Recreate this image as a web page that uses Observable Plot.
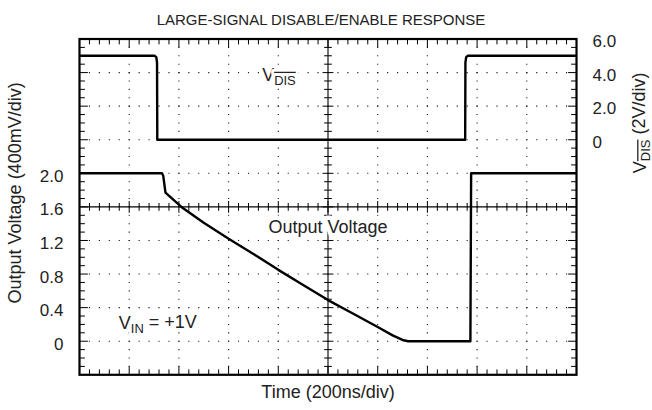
<!DOCTYPE html>
<html><head><meta charset="utf-8">
<script src="https://cdn.jsdelivr.net/npm/d3@7"></script>
<script src="https://cdn.jsdelivr.net/npm/@observablehq/plot@0.6"></script>
<style>
body{margin:0;background:#fff;}
#chart svg{display:block;font-family:"Liberation Sans",Arial,Helvetica,sans-serif;}
</style></head><body><div id="chart"></div>
<script>
// ---- axes (data units) ----
const timeDomain = [0, 2000];            // ns, 200 ns/div, 10 divisions
const outDomain = [-0.4, 3.6];           // V, 400 mV/div, 10 divisions
const outTicks = [0, 0.4, 0.8, 1.2, 1.6, 2.0];
const outTickLabels = ["0", "0.4", "0.8", "1.2", "1.6", "2.0"];
const disTicks = [0, 2, 4, 6];          // V_DIS, 2 V/div
const disTickLabels = ["0", "2.0", "4.0", "6.0"];
const disScale = 0.2;                   // (400 mV/div) / (2 V/div)
const disOffset = 2.4;                  // V_DIS = 0 sits on the 2.4 V output line

// ---- V_DIS trace ----
const disTime = [0, 302, 309, 312, 313, 1552, 1553, 1556, 1563, 2000];
const disVolt = [5.0, 5.0, 4.92, 4.6, 0, 0, 4.6, 4.92, 5.0, 5.0];

// ---- Output voltage trace ----
const outTime = [0, 332, 337, 346, 410, 500, 600, 700, 800, 900, 1000, 1100, 1200, 1260, 1300, 1322, 1573, 1576, 2000];
const outVolt = [2.0, 2.0, 1.97, 1.77, 1.60, 1.41, 1.22, 1.04, 0.85, 0.67, 0.49, 0.33, 0.17, 0.07, 0.015, 0, 0, 2.0, 2.0];

// ---- texts ----
const title = "LARGE-SIGNAL DISABLE/ENABLE RESPONSE";
const xLabel = "Time (200ns/div)";
const yLabel = "Output Voltage (400mV/div)";
const y2Label = {main: "V", sub: "DIS", rest: " (2V/div)"};
const noteDis = {main: "V", sub: "DIS", rest: "", t: 735, v: 3.17};
const noteOut = {main: "Output Voltage", sub: "", rest: "", t: 1000, v: 1.36};
const noteIn = {main: "V", sub: "IN", rest: " = +1V", t: 158, v: 0.21};

// ---- derived tables ----
const disData = disTime.map((t, i) => ({t, v: disOffset + disVolt[i] * disScale}));
const outData = outTime.map((t, i) => ({t, v: outVolt[i]}));
const leftTicks = outTicks.map((v, i) => ({v, label: outTickLabels[i]}));
const rightTicks = disTicks.map((d, i) => ({v: disOffset + d * disScale, label: disTickLabels[i]}));

const xDiv = d3.range(11).map(i => timeDomain[0] + i * 200);
const yDiv = d3.range(11).map(i => +(outDomain[0] + i * 0.4).toFixed(3));
const xMinor = d3.range(51).map(i => i * 40);
const yMinor = d3.range(41).map(i => +(outDomain[0] + i * 0.1).toFixed(3));
const xCenter = 1000, yCenter = 1.6;

const isMajorX = t => Math.abs(t / 200 - Math.round(t / 200)) < 1e-6;
const isMajorY = v => Math.abs((v - outDomain[0]) / 0.4 - Math.round((v - outDomain[0]) / 0.4)) < 1e-6;

const dots = [];
for (const y of yDiv.slice(1, -1)) if (y !== yCenter) for (const t of xMinor.slice(1, -1)) dots.push({t, v: y});
for (const t of xDiv.slice(1, -1)) if (t !== xCenter) for (const v of yMinor.slice(1, -1)) dots.push({t, v});

const tickShape = {draw(context, l) { context.moveTo(0, 0); context.lineTo(0, -l); }};
const xIn = xMinor.slice(1, -1), yIn = yMinor.slice(1, -1);
const xMaj = xIn.filter(isMajorX), xMin = xIn.filter(d => !isMajorX(d));
const yMaj = yIn.filter(isMajorY), yMin = yIn.filter(d => !isMajorY(d));

function ticks(data, horizontal, pos, length, rotate, anchor) {
  const o = {length, anchor, rotate, shape: tickShape, strokeWidth: 1, stroke: "#000"};
  return horizontal
    ? Plot.vector(data, {x: d => d, y: () => pos, ...o})
    : Plot.vector(data, {x: () => pos, y: d => d, ...o});
}

const fs = 17, fl = 18;
const chart = Plot.plot({
  width: 652, height: 410,
  marginLeft: 79, marginRight: 76, marginTop: 38.5, marginBottom: 35.7,
  x: {domain: timeDomain, axis: null},
  y: {domain: outDomain, axis: null},
  style: {fontFamily: '"Liberation Sans", Arial, Helvetica, sans-serif', background: "#fff", color: "#000"},
  marks: [
    Plot.dot(dots, {x: "t", y: "v", symbol: "square", r: 0.62, fill: "#111", stroke: null}),
    Plot.ruleX([xCenter], {stroke: "#000", strokeWidth: 1.1}),
    Plot.ruleY([yCenter], {stroke: "#000", strokeWidth: 1.1}),
    // border ticks (inward)
    ticks(xMin, true, outDomain[0], 5, 0, "start"),
    ticks(xMaj, true, outDomain[0], 8, 0, "start"),
    ticks(xMin, true, outDomain[1], 5, 180, "start"),
    ticks(xMaj, true, outDomain[1], 8, 180, "start"),
    ticks(yMin, false, timeDomain[0], 5, 90, "start"),
    ticks(yMaj, false, timeDomain[0], 8, 90, "start"),
    ticks(yMin, false, timeDomain[1], 5, -90, "start"),
    ticks(yMaj, false, timeDomain[1], 8, -90, "start"),
    // centre cross-hair ticks
    ticks(xMin, true, yCenter, 7, 0, "middle"),
    ticks(xMaj, true, yCenter, 11, 0, "middle"),
    ticks(yMin, false, xCenter, 7, 90, "middle"),
    ticks(yMaj, false, xCenter, 10, 90, "middle"),
    Plot.frame({stroke: "#000", strokeWidth: 2.2}),
    // annotations (white halo hides the grid behind them)
    Plot.text([noteDis, noteIn], {x: "t", y: "v", text: d => d.main + d.sub + d.rest, textAnchor: "start", fontSize: fl, fill: "#222", stroke: "#fff", strokeWidth: 6, paintOrder: "stroke"}),
    Plot.text([noteOut], {x: "t", y: "v", text: d => d.main, textAnchor: "middle", fontSize: fl, fill: "#222", stroke: "#fff", strokeWidth: 9, paintOrder: "stroke"}),
    // traces
    Plot.line(disData, {x: "t", y: "v", stroke: "#000", strokeWidth: 2.4, strokeLinejoin: "round", strokeLinecap: "butt"}),
    Plot.line(outData, {x: "t", y: "v", stroke: "#000", strokeWidth: 2.4, strokeLinejoin: "round", strokeLinecap: "butt"}),
    // tick labels
    Plot.text(leftTicks, {x: () => timeDomain[0], y: "v", text: "label", textAnchor: "end", dx: -16, dy: 3, fontSize: fs, fill: "#222"}),
    Plot.text(rightTicks, {x: () => timeDomain[1], y: "v", text: "label", textAnchor: "start", dx: 16, dy: 2.5, fontSize: fs, fill: "#222"}),
    // titles
    Plot.text([title], {frameAnchor: "top", textAnchor: "middle", dy: -24.5, dx: -7, fontSize: 15, fill: "#222"}),
    Plot.text([xLabel], {frameAnchor: "bottom", textAnchor: "middle", dy: 23, fontSize: fl, fill: "#222"}),
    Plot.text([yLabel], {frameAnchor: "left", textAnchor: "middle", dx: -64, dy: -14, rotate: -90, fontSize: fl, fill: "#222"}),
    Plot.text([y2Label.main + y2Label.sub + y2Label.rest], {frameAnchor: "right", textAnchor: "middle", dx: 64, dy: -84, rotate: -90, fontSize: fl, fill: "#222"})
  ]
});
document.getElementById("chart").appendChild(chart);

// subscripts (with overline for the DIS pin name)
function subscriptify(svg, item, overline) {
  const full = item.main + item.sub + item.rest;
  d3.select(svg).selectAll("text").filter(function() { return this.textContent === full; }).each(function() {
    const t = d3.select(this);
    t.text(null);
    t.append("tspan").text(item.main);
    const s = t.append("tspan").attr("dy", "0.3em").style("font-size", "72%").text(item.sub);
    if (overline) s.attr("text-decoration", "overline");
    if (item.rest) t.append("tspan").attr("dy", "-0.3em").text(item.rest);
  });
}
subscriptify(chart, noteDis, true);
subscriptify(chart, noteIn, false);
subscriptify(chart, y2Label, true);
</script></body></html>
